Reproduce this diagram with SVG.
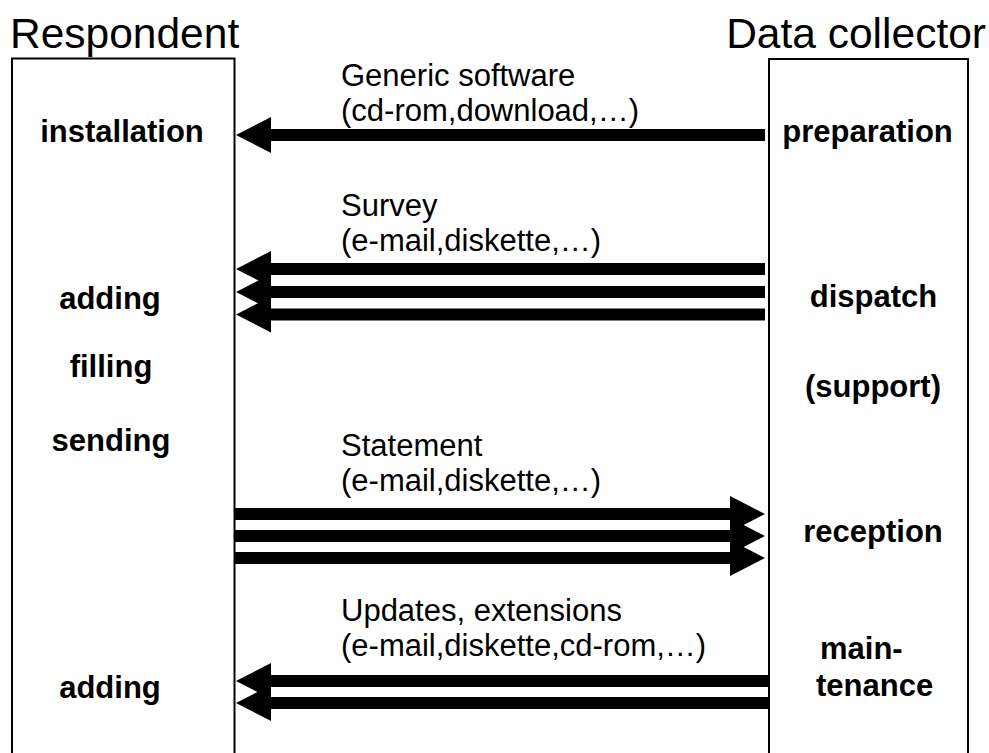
<svg xmlns="http://www.w3.org/2000/svg" width="989" height="753" viewBox="0 0 989 753">
<style>
.title{font-family:"Liberation Sans",Arial,sans-serif;font-size:42.5px;fill:#000}
.lbl{font-family:"Liberation Sans",Arial,sans-serif;font-size:31px;fill:#000}
.bold{font-family:"Liberation Sans",Arial,sans-serif;font-size:31px;font-weight:bold;fill:#000}
.box{fill:none;stroke:#000;stroke-width:2}
.arr{stroke:#000;stroke-width:12;marker-end:url(#head)}
</style>
<defs>
<marker id="head" markerUnits="userSpaceOnUse" markerWidth="35" markerHeight="36" refX="0" refY="18" orient="auto" viewBox="0 0 35 36">
<path d="M0,0 L35,18 L0,36 Z" fill="#000"/>
</marker>
</defs>
<rect width="989" height="753" fill="#fff"/>
<g id="respondent">
<path class="box" d="M12,753 V58.5 H234.5 V753"/>
<text class="title" x="10" y="48">Respondent</text>
<text class="bold" x="122" y="142" text-anchor="middle">installation</text>
<text class="bold" x="110" y="309" text-anchor="middle">adding</text>
<text class="bold" x="111" y="377" text-anchor="middle">filling</text>
<text class="bold" x="111" y="451" text-anchor="middle">sending</text>
<text class="bold" x="110" y="698" text-anchor="middle">adding</text>
</g>
<g id="collector">
<path class="box" d="M769,753 V59 H968 V753"/>
<text class="title" x="986" y="48" text-anchor="end">Data collector</text>
<text class="bold" x="867.5" y="142" text-anchor="middle">preparation</text>
<text class="bold" x="873.5" y="307" text-anchor="middle">dispatch</text>
<text class="bold" x="873" y="397" text-anchor="middle">(support)</text>
<text class="bold" x="873" y="542" text-anchor="middle">reception</text>
<text class="bold" x="820" y="659">main-</text>
<text class="bold" x="816" y="696">tenance</text>
</g>
<g id="connectors">
<line class="arr" x1="765" y1="135" x2="271" y2="135"/>
<line class="arr" x1="765" y1="269" x2="271" y2="269"/>
<line class="arr" x1="765" y1="292" x2="271" y2="292"/>
<line class="arr" x1="765" y1="314.5" x2="271" y2="314.5"/>
<line class="arr" x1="235" y1="514" x2="730" y2="514"/>
<line class="arr" x1="235" y1="536" x2="730" y2="536"/>
<line class="arr" x1="235" y1="558" x2="730" y2="558"/>
<line class="arr" x1="768" y1="681" x2="271" y2="681"/>
<line class="arr" x1="768" y1="703" x2="271" y2="703"/>
</g>
<g id="labels">
<text class="lbl" x="341" y="86">Generic software</text>
<text class="lbl" x="341" y="121">(cd-rom,download,…)</text>
<text class="lbl" x="341" y="216">Survey</text>
<text class="lbl" x="341" y="251">(e-mail,diskette,…)</text>
<text class="lbl" x="341" y="456">Statement</text>
<text class="lbl" x="341" y="491">(e-mail,diskette,…)</text>
<text class="lbl" x="341" y="621">Updates, extensions</text>
<text class="lbl" x="341" y="656">(e-mail,diskette,cd-rom,…)</text>
</g>
</svg>
